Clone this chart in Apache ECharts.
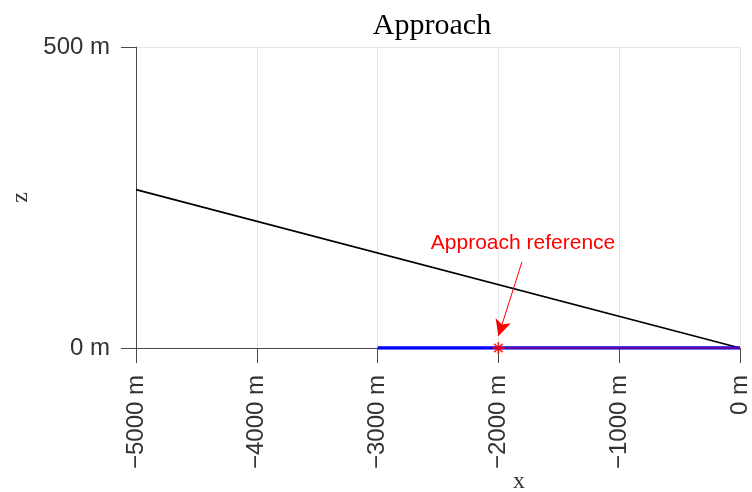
<!DOCTYPE html>
<html>
<head>
<meta charset="utf-8">
<style>html,body{margin:0;padding:0;background:#fff}#c{width:752px;height:492px}</style>
<script src="https://cdn.jsdelivr.net/npm/echarts@6/dist/echarts.min.js"></script>
</head>
<body>
<div id="c"></div>
<script>
// ---- data ----
const titleText = 'Approach';
const xName = 'x';
const zName = 'z';
const xTicks = [-5000, -4000, -3000, -2000, -1000, 0];
const zTicks = [0, 500];
const glideX = [-5000, 0];
const glideZ = [263, 0];
const runwayX = [-3000, 0];
const runwayZ = [0, 0];
const refPathX = [-2000, 0];
const refPathZ = [0, 0];
const refPointX = [-2000];
const refPointZ = [0];
const annotText = 'Approach reference';
const annotTextAt = [-1796, 174];
const arrowFrom = [-1805, 143];
const arrowTo = [-2000, 20];

const pairs = (xs, zs) => xs.map((x, i) => [x, zs[i]]);
const fmt = v => (v < 0 ? '\u2212' + Math.abs(v) : String(v)) + ' m';

const chart = echarts.init(document.getElementById('c'), null, {renderer: 'canvas'});
const axisCol = '#4a4a4a';
const gridCol = '#e6e6e6';
chart.setOption({
  animation: false,
  backgroundColor: '#fff',
  grid: {left: 136, right: 12, top: 47, bottom: 144, containLabel: false, outerBoundsMode: 'none'},
  graphic: [
    {type: 'text', x: 432, y: 11, style: {text: titleText, font: '30px "Liberation Serif"', fill: '#000', textAlign: 'center'}},
    {type: 'text', x: 519, y: 470, style: {text: xName, font: '24px "Liberation Serif"', fill: '#333', textAlign: 'center'}}
  ],
  xAxis: {
    type: 'value', min: xTicks[0], max: xTicks[xTicks.length - 1], interval: 1000,
    axisLine: {show: true, onZero: false, lineStyle: {color: axisCol, width: 1}},
    axisTick: {show: true, inside: false, length: 15, lineStyle: {color: axisCol}},
    splitLine: {show: true, lineStyle: {color: gridCol, width: 1}},
    axisLabel: {rotate: 90, margin: 27, fontSize: 24, fontFamily: 'Liberation Sans', color: '#333', formatter: fmt, showMinLabel: true, showMaxLabel: true}
  },
  yAxis: {
    type: 'value', min: zTicks[0], max: zTicks[zTicks.length - 1], interval: 500,
    name: zName, nameLocation: 'middle', nameGap: 101, nameRotate: 90,
    nameTextStyle: {fontSize: 24, fontFamily: 'Liberation Serif', color: '#333'},
    axisLine: {show: true, onZero: false, lineStyle: {color: axisCol, width: 1}},
    axisTick: {show: true, inside: false, length: 15, lineStyle: {color: axisCol}},
    splitLine: {show: true, lineStyle: {color: gridCol, width: 1}},
    axisLabel: {margin: 26, fontSize: 24, fontFamily: 'Liberation Sans', color: '#333', formatter: fmt, showMinLabel: true, showMaxLabel: true}
  },
  series: [
    {type: 'line', data: pairs(glideX, glideZ), symbol: 'none', lineStyle: {color: '#000', width: 1.8}, z: 3},
    {type: 'line', data: pairs(runwayX, runwayZ), symbol: 'none', lineStyle: {color: '#0000ff', width: 3.5}, z: 4},
    {type: 'line', data: pairs(refPathX, refPathZ), symbol: 'none', lineStyle: {color: '#ff0000', width: 2, opacity: 0.4}, z: 5,
      markLine: {
        silent: true, symbol: ['none', 'arrow'], symbolSize: [12, 16],
        lineStyle: {color: '#ff0000', width: 1, type: 'solid'}, label: {show: false},
        data: [[{coord: arrowFrom}, {coord: arrowTo}]]
      },
      markPoint: {
        silent: true, symbol: 'circle', symbolSize: 1, itemStyle: {color: 'rgba(0,0,0,0)'},
        label: {show: true, position: 'inside', color: '#ff0000', fontSize: 21, fontFamily: 'Liberation Sans', formatter: annotText},
        data: [{coord: annotTextAt, value: 0}]
      }
    },
    {type: 'scatter', data: pairs(refPointX, refPointZ), z: 6,
      symbol: 'path://M0,-10L0,10M-10,0L10,0M-7,-7L7,7M-7,7L7,-7', symbolSize: 12,
      itemStyle: {color: 'rgba(0,0,0,0)', borderColor: '#ff0000', borderWidth: 1.8}}
  ]
});
</script>
</body>
</html>
